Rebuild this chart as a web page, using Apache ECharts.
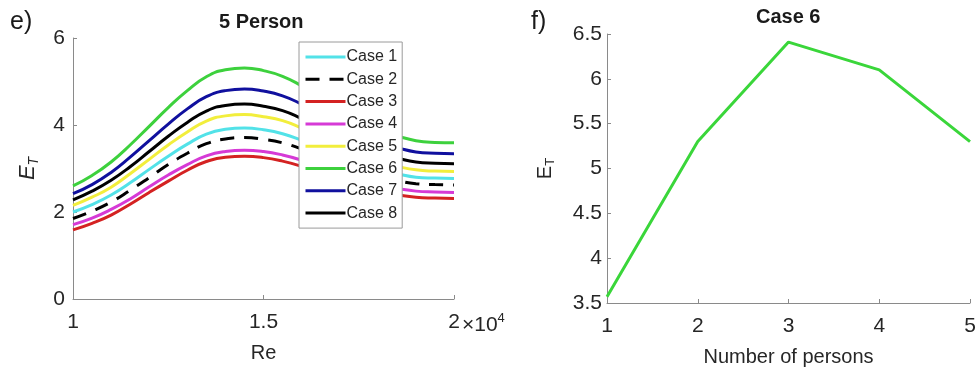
<!DOCTYPE html>
<html>
<head>
<meta charset="utf-8">
<script src="https://cdn.jsdelivr.net/npm/echarts@6/dist/echarts.min.js"></script>
<style>
  html, body { margin: 0; padding: 0; background: #fff; }
  #chart { width: 980px; height: 369px; }
</style>
</head>
<body>
<div id="chart"></div>
<script>
// Re values (x 10^4)
const reValues = [1.00, 1.05, 1.10, 1.15, 1.20, 1.25, 1.30, 1.35, 1.40, 1.45, 1.50,
  1.55, 1.60, 1.65, 1.70, 1.75, 1.80, 1.85, 1.90, 1.95, 2.00]

const case1 = [2.00, 2.17, 2.39, 2.67, 2.98, 3.28, 3.56, 3.79, 3.90, 3.93, 3.89, 3.80, 3.65, 3.48, 3.29, 3.11, 2.97, 2.88, 2.80, 2.78, 2.77]
const case2 = [1.85, 2.02, 2.23, 2.50, 2.79, 3.09, 3.35, 3.57, 3.68, 3.71, 3.67, 3.59, 3.45, 3.29, 3.11, 2.94, 2.80, 2.72, 2.65, 2.63, 2.62]
const case3 = [1.59, 1.74, 1.93, 2.18, 2.45, 2.71, 2.96, 3.16, 3.26, 3.28, 3.25, 3.17, 3.05, 2.90, 2.75, 2.59, 2.47, 2.40, 2.34, 2.32, 2.31]
const case4 = [1.71, 1.86, 2.06, 2.30, 2.58, 2.85, 3.09, 3.29, 3.39, 3.42, 3.39, 3.31, 3.19, 3.04, 2.89, 2.73, 2.61, 2.54, 2.48, 2.46, 2.45]
const case5 = [2.15, 2.34, 2.57, 2.88, 3.21, 3.54, 3.84, 4.09, 4.21, 4.24, 4.19, 4.10, 3.93, 3.73, 3.52, 3.31, 3.15, 3.05, 2.97, 2.94, 2.93]
const case6 = [2.60, 2.84, 3.15, 3.54, 3.97, 4.40, 4.79, 5.11, 5.27, 5.31, 5.25, 5.12, 4.90, 4.64, 4.36, 4.09, 3.88, 3.75, 3.64, 3.60, 3.59]
const case7 = [2.42, 2.63, 2.91, 3.26, 3.64, 4.02, 4.37, 4.65, 4.79, 4.83, 4.78, 4.67, 4.48, 4.25, 4.01, 3.77, 3.59, 3.48, 3.38, 3.35, 3.34]
const case8 = [2.28, 2.48, 2.73, 3.04, 3.39, 3.74, 4.06, 4.32, 4.45, 4.48, 4.43, 4.33, 4.15, 3.95, 3.72, 3.51, 3.34, 3.24, 3.15, 3.12, 3.11]

const caseNames = ['Case 1', 'Case 2', 'Case 3', 'Case 4', 'Case 5', 'Case 6', 'Case 7', 'Case 8']

// panel f: Case 6 vs number of persons
const persons = [1, 2, 3, 4, 5]
const case6ByPersons = [3.57, 5.30, 6.41, 6.10, 5.30]

const caseSeries = [case1, case2, case3, case4, case5, case6, case7, case8]
const caseColors = ['#52e2e8', '#000000', '#d42222', '#d63ad6', '#f2ee3c', '#3dd13d', '#10109e', '#000000']

const tickFont = { color: '#262626', fontSize: 21, fontFamily: 'Arial, Liberation Sans, sans-serif' }
const axisColor = '#8a8a8a'

const chart = echarts.init(document.getElementById('chart'))

function pairs(xs, ys) {
  return xs.map((x, i) => [x, ys[i]])
}

const series = caseSeries.map((vals, i) => ({
  name: caseNames[i],
  type: 'line',
  xAxisIndex: 0,
  yAxisIndex: 0,
  smooth: 0.5,
  symbol: 'none',
  data: pairs(reValues, vals),
  lineStyle: {
    color: caseColors[i],
    width: 3,
    type: i === 1 ? [14, 10] : 'solid'
  },
  itemStyle: { color: caseColors[i] }
}))

series.push({
  name: 'Case 6 persons',
  type: 'line',
  xAxisIndex: 1,
  yAxisIndex: 1,
  symbol: 'none',
  data: pairs(persons, case6ByPersons),
  lineStyle: { color: '#3ad63a', width: 3 },
  itemStyle: { color: '#3ad63a' }
})

chart.setOption({
  backgroundColor: '#ffffff',
  animation: false,
  textStyle: { fontFamily: 'Arial, Liberation Sans, sans-serif' },
  grid: [
    { left: 73, top: 38, width: 381, height: 261, outerBoundsMode: 'none', containLabel: false },
    { left: 607, top: 34, width: 363, height: 269, outerBoundsMode: 'none', containLabel: false }
  ],
  legend: {
    data: caseNames,
    orient: 'vertical',
    left: 299,
    top: 42,
    z: 20,
    padding: [7, 5, 7, 5],
    itemWidth: 40,
    itemHeight: 10,
    itemGap: 6.3,
    backgroundColor: '#ffffff',
    borderColor: '#9a9a9a',
    borderWidth: 1,
    borderRadius: 0,
    itemStyle: { opacity: 0 },
    lineStyle: { width: 3 },
    textStyle: { color: '#262626', fontSize: 16, lineHeight: 16, padding: [0, 0, 0, -4] }
  },
  xAxis: [
    {
      gridIndex: 0,
      type: 'value',
      min: 1,
      max: 2,
      interval: 0.5,
      name: 'Re',
      nameLocation: 'middle',
      nameGap: 44,
      nameTextStyle: { color: '#262626', fontSize: 20 },
      axisLine: { lineStyle: { color: axisColor, width: 1 } },
      axisTick: { inside: true, length: 4, lineStyle: { color: axisColor } },
      axisLabel: { ...tickFont, margin: 13, formatter: v => String(v) },
      splitLine: { show: false }
    },
    {
      gridIndex: 1,
      type: 'value',
      min: 1,
      max: 5,
      interval: 1,
      name: 'Number of persons',
      nameLocation: 'middle',
      nameGap: 44,
      nameTextStyle: { color: '#262626', fontSize: 20 },
      axisLine: { lineStyle: { color: axisColor, width: 1 } },
      axisTick: { inside: true, length: 4, lineStyle: { color: axisColor } },
      axisLabel: { ...tickFont, margin: 13 },
      splitLine: { show: false }
    }
  ],
  yAxis: [
    {
      gridIndex: 0,
      type: 'value',
      min: 0,
      max: 6,
      interval: 2,
      name: '{e|E}{s|T}',
      nameLocation: 'middle',
      nameGap: 32,
      nameTextStyle: {
        rich: {
          e: { fontSize: 22, fontStyle: 'italic', color: '#262626' },
          s: { fontSize: 14, fontStyle: 'italic', color: '#262626', padding: [12, 0, 0, 0] }
        }
      },
      axisLine: { show: true, lineStyle: { color: axisColor, width: 1 } },
      axisTick: { show: true, inside: true, length: 4, lineStyle: { color: axisColor } },
      axisLabel: { ...tickFont, margin: 8 },
      splitLine: { show: false }
    },
    {
      gridIndex: 1,
      type: 'value',
      min: 3.5,
      max: 6.5,
      interval: 0.5,
      name: '{e|E}{s|T}',
      nameLocation: 'middle',
      nameGap: 50,
      nameTextStyle: {
        rich: {
          e: { fontSize: 20, color: '#262626' },
          s: { fontSize: 13, color: '#262626', padding: [11, 0, 0, 0] }
        }
      },
      axisLine: { show: true, lineStyle: { color: axisColor, width: 1 } },
      axisTick: { show: true, inside: true, length: 4, lineStyle: { color: axisColor } },
      axisLabel: { ...tickFont, margin: 5 },
      splitLine: { show: false }
    }
  ],
  graphic: [
    { type: 'text', left: 10, top: 10, style: { text: 'e)', fontSize: 25, fill: '#1a1a1a' } },
    { type: 'text', left: 531, top: 10, style: { text: 'f)', fontSize: 25, fill: '#1a1a1a' } },
    { type: 'text', left: 219, top: 12, style: { text: '5 Person', fontSize: 20, fontWeight: 'bold', fill: '#1a1a1a' } },
    { type: 'text', left: 756, top: 7, style: { text: 'Case 6', fontSize: 20, fontWeight: 'bold', fill: '#1a1a1a' } },
    {
      type: 'text', left: 462, top: 312,
      style: {
        text: '{a|×10}{b|4}',
        rich: {
          a: { fontSize: 21, fill: '#262626', color: '#262626' },
          b: { fontSize: 13, fill: '#262626', color: '#262626', padding: [0, 0, 13, 0] }
        }
      }
    }
  ],
  series: series
})
</script>
</body>
</html>
